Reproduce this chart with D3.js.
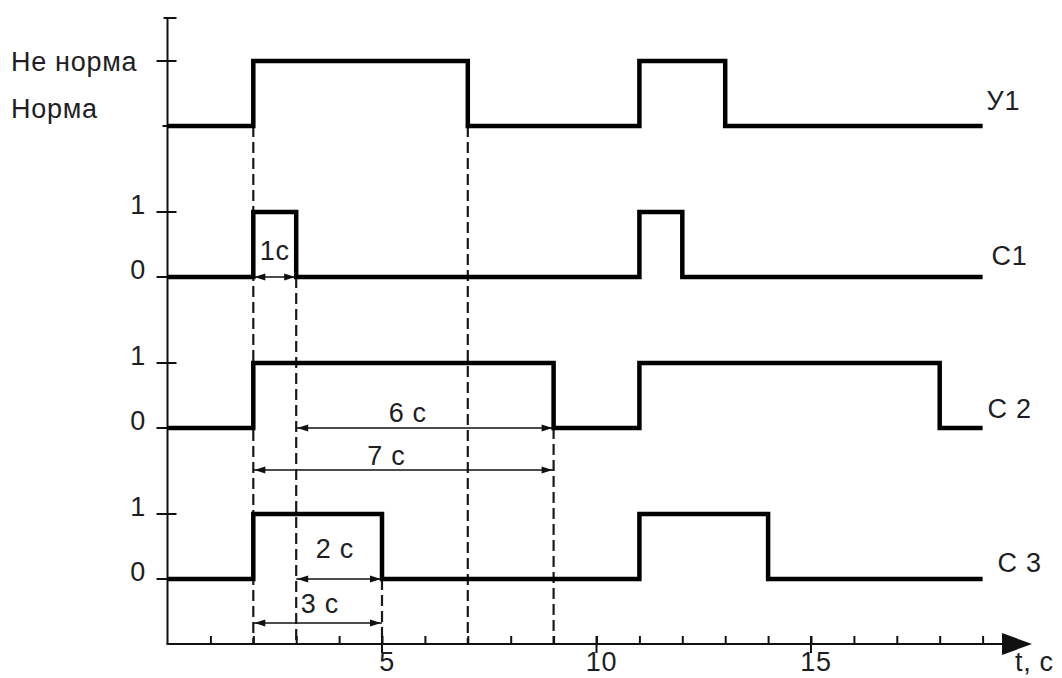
<!DOCTYPE html>
<html>
<head>
<meta charset="utf-8">
<script src="https://cdn.jsdelivr.net/npm/d3@7"></script>
<style>
  html, body { margin: 0; padding: 0; background: #fff; }
  svg text { font-family: "Liberation Sans", Arial, sans-serif; fill: #1e1e24; letter-spacing: 0.7px; }
</style>
</head>
<body>
<div id="chart"></div>
<script>
// Timing diagram: sensor state У1 and outputs С1..С3 over time

// --- data ---
const signals = ['У1', 'С1', 'С 2', 'С 3'];
const u1Steps = [[0, 0], [2, 1], [7, 0], [11, 1], [13, 0], [19, 0]];
const c1Steps = [[0, 0], [2, 1], [3, 0], [11, 1], [12, 0], [19, 0]];
const c2Steps = [[0, 0], [2, 1], [9, 0], [11, 1], [18, 0], [19, 0]];
const c3Steps = [[0, 0], [2, 1], [5, 0], [11, 1], [14, 0], [19, 0]];
const stepsBySignal = [u1Steps, c1Steps, c2Steps, c3Steps];

const u1StateLabels = ['Норма', 'Не норма'];
const binaryLabels = ['0', '1'];
const xTickLabels = [5, 10, 15];
const xMinorTicks = d3.range(1, 20);
const xAxisLabel = 't, c';

// dashed guide lines: time, signal whose low level they start from
const guideTimes = [2, 3, 7, 9, 5];
const guideFrom = ['У1', 'С1', 'У1', 'С 2', 'С 3'];

// dimension arrows: from, to, label, signal row, label anchor time
const dimFrom = [2, 3, 2, 3, 2];
const dimTo = [3, 9, 9, 5, 5];
const dimText = ['1c', '6 c', '7 c', '2 c', '3 c'];
const dimRow = ['С1', 'С 2', 'С 2', 'С 3', 'С 3'];
const dimTextAt = [2.5, 5.6, 5.1, 3.9, 3.55];

// --- layout ---
const W = 1062, H = 678;
const axisY = 644, axisTop = 18;
const fs = 27;

const svg = d3.select('#chart').append('svg')
    .attr('width', W).attr('height', H);

const x = d3.scaleLinear().domain([0, 19]).range([167.5, 982.6]);
const row = d3.scalePoint().domain(signals).range([126, 579]);
const level = d3.scaleLinear().domain([0, 1]).range([0, -65]);
const yOf = (name, v) => row(name) + level(v);

// extra offsets (px) for each row: dimension line below baseline, label text
const dimLineDy = [0, 0, 42, 0, 44];
const dimTextDy = [-17, -6, -5, -21, -10];
const rowLabelPos = { 'У1': [4, -16], 'С1': [9, -12], 'С 2': [5, -10], 'С 3': [15, -7] };

// --- dashed guides (behind signals) ---
svg.append('g').selectAll('line')
    .data(guideTimes.map((t, i) => ({ t, from: guideFrom[i] })))
    .enter().append('line')
    .attr('x1', d => x(d.t)).attr('x2', d => x(d.t))
    .attr('y1', d => yOf(d.from, 0)).attr('y2', axisY)
    .attr('stroke', '#1a1a1a').attr('stroke-width', 2.2)
    .attr('stroke-dasharray', '11,5');

// --- y axis ---
const yAxis = svg.append('g');
yAxis.append('line')
    .attr('x1', x(0)).attr('x2', x(0))
    .attr('y1', axisTop).attr('y2', axisY)
    .attr('stroke', '#111').attr('stroke-width', 2);
yAxis.append('line')
    .attr('x1', x(0) - 4).attr('x2', x(0) + 9)
    .attr('y1', axisTop).attr('y2', axisTop)
    .attr('stroke', '#111').attr('stroke-width', 2);

const yTicks = [];
signals.forEach(s => { yTicks.push({ s, v: 1 }); yTicks.push({ s, v: 0 }); });
yAxis.selectAll('line.tick').data(yTicks).enter().append('line')
    .attr('class', 'tick')
    .attr('x1', d => x(0) - (d.s === 'У1' && d.v === 0 ? 5 : 11))
    .attr('x2', d => d.v === 1 ? x(0) + 9 : x(0))
    .attr('y1', d => yOf(d.s, d.v)).attr('y2', d => yOf(d.s, d.v))
    .attr('stroke', '#111').attr('stroke-width', 2);

// state labels
yAxis.append('text').attr('x', 11).attr('y', yOf('У1', 1) + 10)
    .attr('font-size', fs).text(u1StateLabels[1]);
yAxis.append('text').attr('x', 11).attr('y', yOf('У1', 0) - 8)
    .attr('font-size', fs).text(u1StateLabels[0]);
yAxis.selectAll('text.bin')
    .data(yTicks.filter(d => d.s !== 'У1'))
    .enter().append('text').attr('class', 'bin')
    .attr('x', 146).attr('y', d => yOf(d.s, d.v) + 2)
    .attr('text-anchor', 'end').attr('font-size', fs)
    .text(d => binaryLabels[d.v]);

// --- x axis ---
const xAxisG = svg.append('g').attr('transform', `translate(0,${axisY})`);
xAxisG.call(d3.axisBottom(x).tickValues(xMinorTicks).tickSize(-8).tickFormat(''));
xAxisG.select('.domain').remove();
xAxisG.selectAll('.tick line').attr('stroke', '#111').attr('stroke-width', 2);

svg.append('line')
    .attr('x1', x(0) - 1).attr('x2', 1008)
    .attr('y1', axisY).attr('y2', axisY)
    .attr('stroke', '#111').attr('stroke-width', 2);
svg.append('path')
    .attr('d', `M1002,${axisY - 11}L1032,${axisY}L1002,${axisY + 11}Z`)
    .attr('fill', '#111');

svg.append('g').selectAll('line').data(xTickLabels).enter().append('line')
    .attr('x1', d => x(d)).attr('x2', d => x(d))
    .attr('y1', axisY - 8).attr('y2', axisY + 9)
    .attr('stroke', '#111').attr('stroke-width', 2);
svg.append('g').selectAll('text').data(xTickLabels).enter().append('text')
    .attr('x', d => x(d) + 5).attr('y', axisY + 27)
    .attr('text-anchor', 'middle').attr('font-size', fs)
    .text(d => d);
svg.append('text').attr('x', 1015).attr('y', axisY + 27)
    .attr('font-size', fs).text(xAxisLabel);

// --- signals ---
const line = d3.line().curve(d3.curveStepAfter);
svg.append('g').selectAll('path')
    .data(signals.map((s, i) => ({ s, steps: stepsBySignal[i] })))
    .enter().append('path')
    .attr('d', d => line(d.steps.map(p => [x(p[0]), yOf(d.s, p[1])])))
    .attr('fill', 'none').attr('stroke', '#000').attr('stroke-width', 4.5)
    .attr('stroke-linejoin', 'miter').attr('stroke-linecap', 'butt');

svg.append('g').selectAll('text')
    .data(signals).enter().append('text')
    .attr('x', s => x(19) + rowLabelPos[s][0])
    .attr('y', s => yOf(s, 0) + rowLabelPos[s][1])
    .attr('font-size', fs).text(s => s);

// --- dimension arrows ---
const arrowHead = (tipX, y, dir) =>
    `M${tipX},${y}L${tipX - dir * 11},${y - 3.5}L${tipX - dir * 11},${y + 3.5}Z`;
const dims = dimText.map((t, i) => ({
    a: x(dimFrom[i]), b: x(dimTo[i]),
    y: yOf(dimRow[i], 0) + dimLineDy[i],
    label: t, tx: x(dimTextAt[i]), ty: yOf(dimRow[i], 0) + dimLineDy[i] + dimTextDy[i]
}));
const dimG = svg.append('g');
dimG.selectAll('line').data(dims).enter().append('line')
    .attr('x1', d => d.a).attr('x2', d => d.b)
    .attr('y1', d => d.y).attr('y2', d => d.y)
    .attr('stroke', '#111').attr('stroke-width', 1.6);
dimG.selectAll('path.l').data(dims).enter().append('path').attr('class', 'l')
    .attr('d', d => arrowHead(d.a + 1, d.y, -1)).attr('fill', '#111');
dimG.selectAll('path.r').data(dims).enter().append('path').attr('class', 'r')
    .attr('d', d => arrowHead(d.b - 1, d.y, 1)).attr('fill', '#111');
dimG.selectAll('text').data(dims).enter().append('text')
    .attr('x', d => d.tx).attr('y', d => d.ty)
    .attr('text-anchor', 'middle').attr('font-size', fs)
    .text(d => d.label);
</script>
</body>
</html>
